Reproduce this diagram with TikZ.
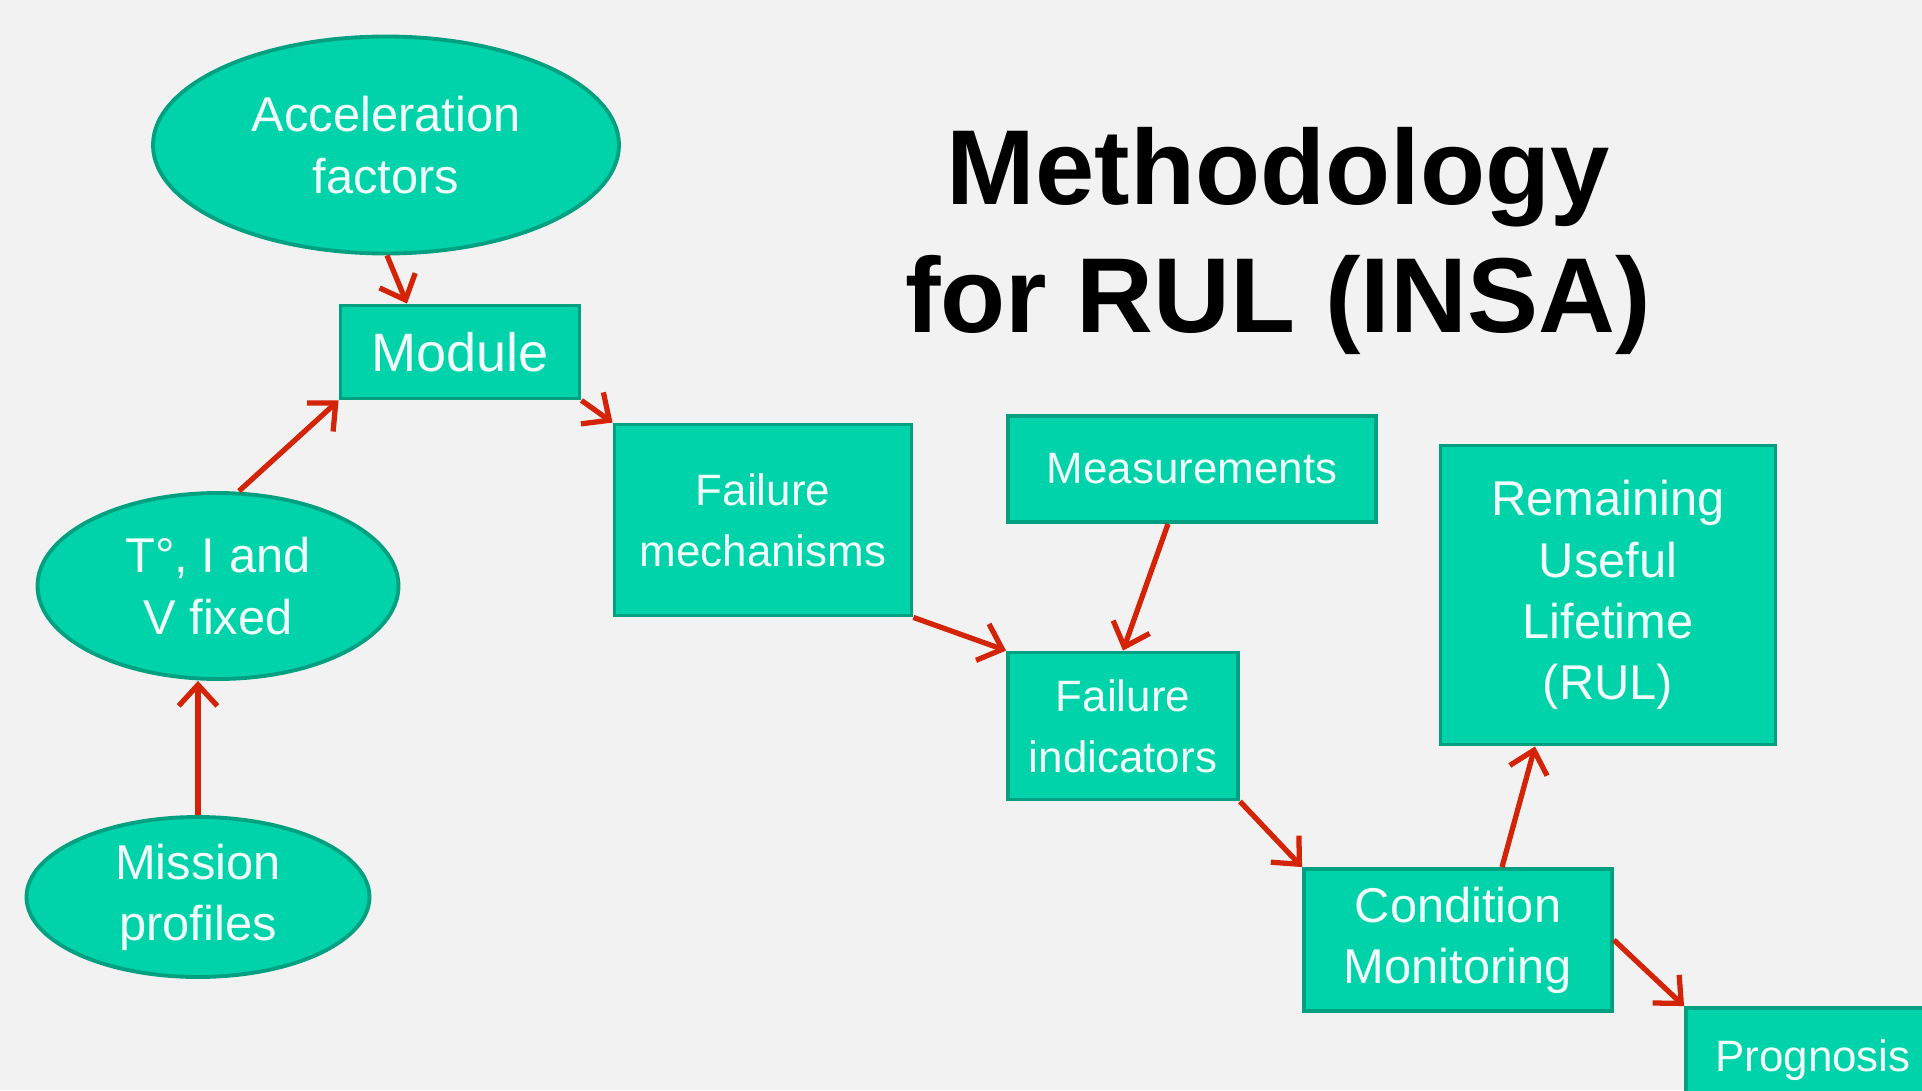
\documentclass[tikz,border=0pt]{standalone}
\usepackage{fontspec}
\setmainfont{Liberation Sans}
\usepackage{tikz}
\usetikzlibrary{positioning, calc, shapes.geometric, arrows.meta}
\definecolor{bgGrey}{RGB}{242,242,242}
\definecolor{tealFill}{RGB}{0,210,170}
\definecolor{tealLine}{RGB}{0,160,128}
\definecolor{arrowRed}{RGB}{212,36,8}
\definecolor{softWhite}{RGB}{240,255,250}
\tikzstyle{Arrow} = [
%Create custom arrow style:
draw = arrowRed,
line width = 1.5pt,
-{Straight Barb[length=6pt, width=11pt, line width=1.5pt]}
]

\begin{document}
\begin{tikzpicture}[
				box/.style = {rectangle, line width = 1.1pt, draw = tealLine, fill = tealFill, text = softWhite, align = center, inner sep = 0pt},
				oval/.style = {ellipse, line width = 1.1pt, draw = tealLine, fill = tealFill, text = softWhite, align = center, inner sep = 0pt},
				big/.style = {font = \fontsize{15.4pt}{17.4pt}\selectfont},
				mid/.style = {font = \fontsize{13.9pt}{17.4pt}\selectfont},
				small/.style = {font = \fontsize{12.5pt}{17.4pt}\selectfont},
			]

			\useasboundingbox (0,0) rectangle (19.22,10.90);
			\fill[bgGrey] (0,0) rectangle (19.22,10.90);
			\clip (0,0) rectangle (19.22,10.90);

			\node[font = \fontsize{30.3pt}{36.4pt}\selectfont\bfseries, align = center](title) at (12.78,8.49){Methodology\\for RUL (INSA)};

			\node[oval, mid, minimum width = 4.66cm, minimum height = 2.17cm](acc) at (3.86,9.45){Acceleration\\factors};
			\node[box, big, minimum width = 2.39cm, minimum height = 0.93cm](mod) at (4.60,7.38){Module};
			\node[oval, mid, minimum width = 3.61cm, minimum height = 1.86cm](tiv) at (2.18,5.04){T°, I and\\V fixed};
			\node[oval, mid, minimum width = 3.43cm, minimum height = 1.60cm](mis) at (1.98,1.93){Mission\\profiles};
			\node[box, small, minimum width = 2.97cm, minimum height = 1.91cm](fm) at (7.63,5.70){Failure\\mechanisms};
			\node[box, small, minimum width = 3.68cm, minimum height = 1.06cm](meas) at (11.92,6.21){Measurements};
			\node[box, small, minimum width = 2.30cm, minimum height = 1.47cm](fi) at (11.23,3.64){Failure\\indicators};
			\node[box, mid, minimum width = 3.35cm, minimum height = 2.99cm](rul) at (16.08,4.95){Remaining\\Useful\\Lifetime\\(RUL)};
			\node[box, mid, minimum width = 3.08cm, minimum height = 1.42cm](cm) at (14.58,1.50){Condition\\Monitoring};
			\node[box, small, minimum width = 2.54cm, minimum height = 1.04cm](prog) at (18.13,0.30){Prognosis};

			\draw[Arrow]([xshift=0.01cm]acc.south)--([xshift=-0.53cm]mod.north);
			\draw[Arrow]([xshift=0.21cm]tiv.north)--(mod.south west);
			\draw[Arrow](mod.south east)--(fm.north west);
			\draw[Arrow](mis.north)--([xshift=-0.2cm]tiv.south);
			\draw[Arrow](fm.south east)--(fi.north west);
			\draw[Arrow]([xshift=-0.24cm]meas.south)--(fi.north);
			\draw[Arrow](fi.south east)--(cm.north west);
			\draw[Arrow]([xshift=0.44cm]cm.north)--([xshift=-0.73cm]rul.south);
			\draw[Arrow](cm.east)--(prog.north west);

		\end{tikzpicture}
\end{document}
